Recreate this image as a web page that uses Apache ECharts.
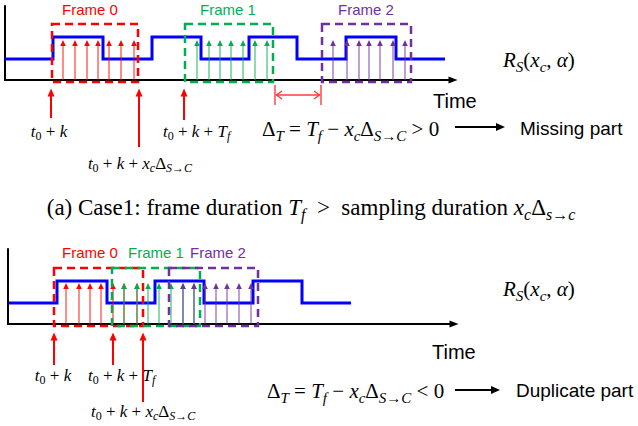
<!DOCTYPE html>
<html><head><meta charset="utf-8">
<script src="https://cdn.jsdelivr.net/npm/echarts@6.0.0/dist/echarts.min.js"></script>
<style>html,body{margin:0;padding:0;background:#fff}#c{width:638px;height:426px}</style>
</head><body><div id="c"></div>
<script>
// ---------------- DATA ----------------
const frameNames = ['Frame 0', 'Frame 1', 'Frame 2'];
const lowLevel = 2.1, highLevel = 4.3;

// Panel (a): Case 1 (frame duration > sampling duration)
const aSignalT     = [0, 4.8, 9.8, 14.7, 19.6, 24.4, 29.2, 34.1, 39.1, 44.0];
const aSignalLevel = [lowLevel, highLevel, lowLevel, highLevel, lowLevel, highLevel, lowLevel, highLevel, lowLevel, lowLevel];
const aFrameStart  = [4.7, 18.0, 31.7];
const aFrameEnd    = [13.3, 26.8, 40.6];
const aFrameBox    = [-0.2, 5.6];           // box bottom / top level
const aSamples0    = [5.8, 7.0, 8.2, 9.3, 10.4, 11.6, 12.9];
const aSamples1    = [19.2, 20.4, 21.5, 22.6, 23.8, 25.0, 26.2];
const aSamples2    = [32.8, 34.2, 35.4, 36.4, 37.5, 38.8, 40.0];
const aSampleTip   = 4.0;
const aMarkerT     = [4.6, 13.4, 17.9];     // t0+k, t0+k+xcΔ, t0+k+Tf
const aMarkerTip   = -0.85;
const aMarkerEnd   = [-3.8, -6.7, -4.0];
const aGap         = [27.0, 31.6];          // missing part
const aGapLevel    = [-1.5, -0.5, -2.5];

// Panel (b): Case 2 (frame duration < sampling duration)
const bSignalT     = [0.1, 4.9, 9.9, 14.7, 19.6, 24.5, 29.4, 34.3];
const bSignalLevel = [lowLevel, highLevel, lowLevel, highLevel, lowLevel, highLevel, lowLevel, lowLevel];
const bFrameStart  = [4.6, 10.4, 16.1];
const bFrameEnd    = [13.5, 19.2, 25.0];
const bFrameBox    = [-0.2, 5.6];
const bSamples0    = [5.8, 7.1, 8.2, 9.3, 10.5, 11.6, 12.9];
const bSamples1    = [11.6, 12.9, 14.0, 15.1, 16.3, 17.5, 18.6];
const bSamples2    = [17.5, 18.6, 19.7, 20.8, 21.9, 23.1, 24.3];
const bSampleTip   = 4.1;
const bMarkerT     = [4.6, 10.5, 13.5];     // t0+k, t0+k+Tf, t0+k+xcΔ
const bMarkerTip   = -0.85;
const bMarkerEnd   = [-4.1, -4.1, -7.8];

// ---------------- STYLE ----------------
const frameColors = ['#ff0000', '#00b050', '#7030a0'];
const SANS = '"Liberation Sans", Arial, sans-serif';
const SERIF = '"Liberation Serif", "Times New Roman", serif';

function mathRich(F, col) {
  col = col || '#000';
  const s = Math.round(F * 0.7), P = Math.round(F * 0.6);
  return {
    i:  {fontFamily: SERIF, fontStyle: 'italic', fontSize: F, fill: col, color: col},
    r:  {fontFamily: SERIF, fontSize: F, fill: col, color: col},
    si: {fontFamily: SERIF, fontStyle: 'italic', fontSize: s, fill: col, color: col, padding: [P, 0, 0, 0]},
    sr: {fontFamily: SERIF, fontSize: s, fill: col, color: col, padding: [P, 0, 0, 0]}
  };
}

function signalSeries(g, T, L) {
  return {type: 'line', xAxisIndex: g, yAxisIndex: g, step: 'end', symbol: 'none', silent: true, z: 2,
    data: T.map((t, i) => [t, L[i]]),
    lineStyle: {color: '#0000ff', width: 3, join: 'miter'}};
}
function boxSeries(g, S, E, yb) {
  return {type: 'custom', xAxisIndex: g, yAxisIndex: g, clip: false, silent: true, z: 5,
    data: S.map((s, i) => [s, E[i], yb[0], yb[1], i]),
    encode: {x: [0, 1], y: [2, 3]},
    renderItem: function (p, api) {
      const a = api.coord([api.value(0), api.value(3)]);
      const b = api.coord([api.value(1), api.value(2)]);
      return {type: 'rect', shape: {x: a[0], y: a[1], width: b[0] - a[0], height: b[1] - a[1]},
        style: {fill: 'none', stroke: frameColors[api.value(4)], lineWidth: 2.5, lineDash: [8, 5]}};
    }};
}
function sampleSeries(g, groups, tip) {
  const data = [];
  groups.forEach((arr, f) => arr.forEach(t => data.push([t, tip, f])));
  return {type: 'custom', xAxisIndex: g, yAxisIndex: g, clip: false, silent: true, z: 4,
    data: data, encode: {x: 0, y: 1},
    renderItem: function (p, api) {
      const x = api.value(0), c = frameColors[api.value(2)];
      const b = api.coord([x, 0]), t = api.coord([x, api.value(1)]);
      return {type: 'group', children: [
        {type: 'line', shape: {x1: b[0], y1: b[1], x2: t[0], y2: t[1] + 4}, style: {stroke: c, lineWidth: 1.4, opacity: 0.65}},
        {type: 'polygon', shape: {points: [[t[0], t[1]], [t[0] - 2.8, t[1] + 6], [t[0] + 2.8, t[1] + 6]]}, style: {fill: c}}
      ]};
    }};
}
function markerSeries(g, T, tip, ends) {
  return {type: 'custom', xAxisIndex: g, yAxisIndex: g, clip: false, silent: true, z: 4,
    data: T.map((t, i) => [t, tip, ends[i]]), encode: {x: 0, y: [1, 2]},
    renderItem: function (p, api) {
      const x = api.value(0);
      const t = api.coord([x, api.value(1)]), b = api.coord([x, api.value(2)]);
      return {type: 'group', children: [
        {type: 'line', shape: {x1: b[0], y1: b[1], x2: t[0], y2: t[1] + 6}, style: {stroke: '#ff0000', lineWidth: 2}},
        {type: 'polygon', shape: {points: [[t[0], t[1]], [t[0] - 3.5, t[1] + 8], [t[0] + 3.5, t[1] + 8]]}, style: {fill: '#ff0000'}}
      ]};
    }};
}
function gapSeries(g, G, lv) {
  return {type: 'custom', xAxisIndex: g, yAxisIndex: g, clip: false, silent: true, z: 4,
    data: [[G[0], G[1], lv[0], lv[1], lv[2]]], encode: {x: [0, 1], y: [2, 3, 4]},
    renderItem: function (p, api) {
      const a = api.coord([api.value(0), api.value(2)]), b = api.coord([api.value(1), api.value(2)]);
      const at = api.coord([api.value(0), api.value(3)])[1], ab = api.coord([api.value(0), api.value(4)])[1];
      const st = {stroke: '#ff3b3b', lineWidth: 1.4, fill: 'none'};
      return {type: 'group', children: [
        {type: 'line', shape: {x1: a[0], y1: at, x2: a[0], y2: ab}, style: st},
        {type: 'line', shape: {x1: b[0], y1: at, x2: b[0], y2: ab}, style: st},
        {type: 'line', shape: {x1: a[0] + 1, y1: a[1], x2: b[0] - 1, y2: b[1]}, style: st},
        {type: 'polyline', shape: {points: [[a[0] + 7, a[1] - 4], [a[0] + 1.5, a[1]], [a[0] + 7, a[1] + 4]]}, style: st},
        {type: 'polyline', shape: {points: [[b[0] - 7, b[1] - 4], [b[0] - 1.5, b[1]], [b[0] - 7, b[1] + 4]]}, style: st}
      ]};
    }};
}
function axisPair(g, xmax, ymax) {
  const line = {color: '#000', width: 2};
  return {
    x: {gridIndex: g, type: 'value', min: 0, max: xmax, axisLine: {show: true, symbol: ['none', 'triangle'], symbolSize: [7, 9], lineStyle: line},
        axisTick: {show: false}, axisLabel: {show: false}, splitLine: {show: false}},
    y: {gridIndex: g, type: 'value', min: 0, max: ymax, axisLine: {show: true, lineStyle: line},
        axisTick: {show: false}, axisLabel: {show: false}, splitLine: {show: false}}
  };
}

// ---------------- TEXT ----------------
function txt(x, y, text, rich, align, extra) {
  const st = Object.assign({text: text, rich: rich, align: align || 'left', verticalAlign: 'middle', textAlign: align || 'left', textVerticalAlign: 'middle'}, extra || {});
  return {type: 'text', x: x, y: y, silent: true, style: st, z: 10};
}
function plain(x, y, text, size, col, align) {
  return {type: 'text', x: x, y: y, silent: true, z: 10,
    style: {text: text, fontFamily: SANS, fontSize: size, fill: col, align: align || 'left', verticalAlign: 'middle', textAlign: align || 'left', textVerticalAlign: 'middle'}};
}
function longArrow(x0, x1, y) {
  return {type: 'group', silent: true, children: [
    {type: 'line', shape: {x1: x0, y1: y, x2: x1 - 6, y2: y}, style: {stroke: '#000', lineWidth: 2}},
    {type: 'polygon', shape: {points: [[x1, y], [x1 - 9, y - 4], [x1 - 9, y + 4]]}, style: {fill: '#000'}}
  ]};
}
const tk = '{i|t}{sr|0}{r| + }{i|k}';
const tkTf = '{i|t}{sr|0}{r| + }{i|k}{r| + }{i|T}{si|f}';
const tkX = '{i|t}{sr|0}{r| + }{i|k}{r| + }{i|x}{si|c}{r|Δ}{si|S}{sr|→}{si|C}';
const rs = '{i|R}{si|S}{r|(}{i|x}{si|c}{r|, }{i|α}{r|)}';
const eqA = '{r|Δ}{si|T}{r| = }{i|T}{si|f}{r| − }{i|x}{si|c}{r|Δ}{si|S}{sr|→}{si|C}{r| > 0}';
const eqB = '{r|Δ}{si|T}{r| = }{i|T}{si|f}{r| − }{i|x}{si|c}{r|Δ}{si|S}{sr|→}{si|C}{r| < 0}';
const caption = '{r|(a) Case1: frame duration }{i|T}{si|f}{r|  >  sampling duration }{i|x}{si|c}{r|Δ}{si|s}{sr|→}{si|c}';

const graphics = [
  plain(90, 9, frameNames[0], 15, frameColors[0], 'center'),
  plain(228, 9, frameNames[1], 15, frameColors[1], 'center'),
  plain(366, 9, frameNames[2], 15, frameColors[2], 'center'),
  txt(503, 60, rs, mathRich(21)),
  plain(433, 101, 'Time', 20, '#000'),
  txt(49, 131, tk, mathRich(17), 'center'),
  txt(163, 131, tkTf, mathRich(17)),
  txt(140, 163, tkX, mathRich(17), 'center'),
  txt(262, 129, eqA, mathRich(21)),
  longArrow(455, 505, 127),
  plain(520, 128, 'Missing part', 19, '#000'),
  txt(311, 207, caption, mathRich(23), 'center'),

  plain(90, 252, frameNames[0], 15, frameColors[0], 'center'),
  plain(156, 252, frameNames[1], 15, frameColors[1], 'center'),
  plain(218, 252, frameNames[2], 15, frameColors[2], 'center'),
  txt(503, 289, rs, mathRich(21)),
  plain(432, 352, 'Time', 20, '#000'),
  txt(53, 375, tk, mathRich(17), 'center'),
  txt(88, 375, tkTf, mathRich(17)),
  txt(91, 411, tkX, mathRich(17)),
  txt(267, 391, eqB, mathRich(21)),
  longArrow(455, 500, 390),
  plain(516, 390, 'Duplicate part', 19, '#000')
];

const A = axisPair(0, 44.8, 7.4), B = axisPair(1, 44.6, 7.5);
const chart = echarts.init(document.getElementById('c'), null, {renderer: 'svg'});
chart.setOption({
  animation: false,
  backgroundColor: '#fff',
  grid: [
    {left: 5, top: 6, width: 448, height: 74},
    {left: 8, top: 249, width: 446, height: 75}
  ],
  xAxis: [A.x, B.x],
  yAxis: [A.y, B.y],
  series: [
    signalSeries(0, aSignalT, aSignalLevel),
    sampleSeries(0, [aSamples0, aSamples1, aSamples2], aSampleTip),
    boxSeries(0, aFrameStart, aFrameEnd, aFrameBox),
    markerSeries(0, aMarkerT, aMarkerTip, aMarkerEnd),
    gapSeries(0, aGap, aGapLevel),
    signalSeries(1, bSignalT, bSignalLevel),
    sampleSeries(1, [bSamples0, bSamples1, bSamples2], bSampleTip),
    boxSeries(1, bFrameStart, bFrameEnd, bFrameBox),
    markerSeries(1, bMarkerT, bMarkerTip, bMarkerEnd)
  ],
  graphic: graphics
});
</script></body></html>
